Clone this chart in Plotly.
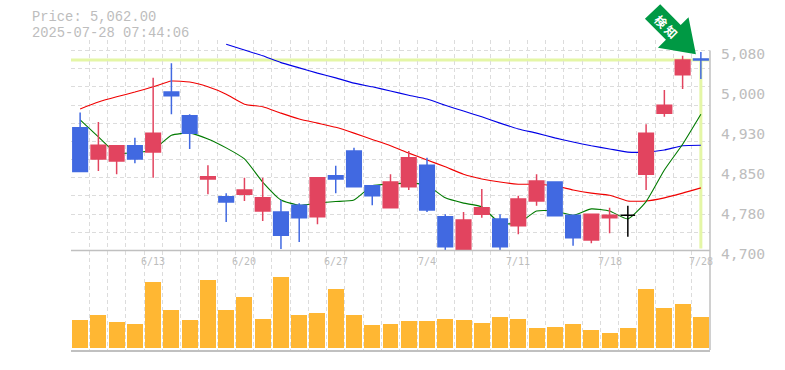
import plotly.graph_objects as go

dates = ["6/9","6/10","6/11","6/12","6/13","6/16","6/17","6/18","6/19","6/20","6/23","6/24","6/25","6/26","6/27",
         "6/30","7/1","7/2","7/3","7/4","7/7","7/8","7/9","7/10","7/11","7/14","7/15","7/16","7/17","7/18",
         "7/22","7/23","7/24","7/25","7/28"]
opens  = [4933,4874,4870,4899,4887,5001,4956,4836,4802,4807,4775,4773,4786,4764,4842,4889,4823,4781,4821,4862,4764,4700,4769,4760,4747,4794,4830,4767,4720,4762,4767,4845,4961,5034,5064]
highs  = [4962,4944,4899,4914,5028,5056,4959,4862,4809,4838,4838,4796,4790,4838,4861,4895,4824,4845,4889,4876,4769,4773,4817,4769,4804,4845,4830,4767,4769,4781,4785,4940,5005,5070,5077]
lows   = [4850,4851,4845,4866,4838,4959,4893,4807,4754,4794,4756,4703,4716,4750,4809,4821,4786,4781,4815,4773,4700,4700,4762,4700,4731,4785,4766,4709,4714,4733,4726,4815,4954,5007,5026]
closes = [4850,4900,4899,4874,4923,4994,4923,4840,4792,4815,4800,4729,4762,4838,4836,4821,4804,4830,4876,4777,4707,4758,4781,4707,4798,4832,4766,4724,4769,4767,4767,4923,4976,5062,5062]
ma_short = [4948,4916,4885,4886,4891,4919,4923,4912,4895,4874,4830,4796,4786,4790,4793,4796,4823,4826,4828,4824,4800,4790,4783,4752,4752,4775,4775,4767,4779,4775,4760,4793,4853,4902,4959]
ma_mid = [4969,4982,4992,5001,5011,5022,5020,5011,4997,4978,4973,4961,4950,4942,4934,4923,4911,4899,4885,4872,4859,4845,4836,4830,4826,4826,4823,4815,4809,4805,4794,4794,4800,4809,4819]
ma_long = [None]*8 + [5092,5081,5070,5057,5047,5037,5028,5018,5011,5003,4995,4988,4976,4965,4954,4942,4931,4923,4914,4906,4899,4893,4887,4887,4891,4899,4900]
volumes = [28,33,26,24,66,38,28,68,38,51,29,71,33,35,59,33,23,24,27,27,29,28,25,31,29,20,21,24,18,15,20,59,40,44,31]
last_price = 5062
price_ticks = [5080,5004,4928,4852,4776,4700]
price_labels = ["5,080","5,000","4,930","4,850","4,780","4,700"]
label_dates = ["6/13","6/20","6/27","7/4","7/11","7/18","7/28"]
info_lines = ["Price: 5,062.00","2025-07-28 07:44:06"]
badge_text = "検 知"

L, R, T, B = 70.5, 709.8, 40.0, 350.0
GRID_TOP = 50.5
MID = 250.5
W, H = R - L, B - T
def px(x): return (x - L) / W
def py(y): return (B - y) / H

x = list(range(len(dates)))
GRID = "#DCDCDC"
AXIS = "#C0C0C0"
TXT = "#BDBDBD"
MONO = "DejaVu Sans Mono"
RED = "#E2445F"
BLUE = "#4169E1"
HL = "#E4F6A6"
Y_TOP = 5080 + (GRID_TOP - T) * 380 / 200
grid_vals = [4700 + k * 380 / 11 for k in range(12)]

fig = go.Figure()
fig.add_trace(go.Bar(x=x, y=volumes, width=0.875, marker=dict(color="#FFB733", line=dict(width=0)), xaxis="x", yaxis="y2"))
for vals, col, w in [(ma_long, "#0000E6", 1.1), (ma_mid, "#F00000", 1.1), (ma_short, "#007A00", 1.1)]:
    fig.add_trace(go.Scatter(x=x, y=vals, mode="lines", line=dict(color=col, width=w, shape="spline", smoothing=0.5), xaxis="x", yaxis="y"))

black = 30
def mask(a): return [v if i != black else None for i, v in enumerate(a)]
fig.add_trace(go.Candlestick(x=x, open=mask(opens), high=mask(highs), low=mask(lows), close=mask(closes),
    increasing=dict(line=dict(color=RED, width=1.5), fillcolor=RED),
    decreasing=dict(line=dict(color=BLUE, width=1.5), fillcolor=BLUE),
    whiskerwidth=0, xaxis="x", yaxis="y3"))
fig.add_trace(go.Candlestick(x=x, open=[opens[i] if i == black else None for i in x],
    high=[highs[i] if i == black else None for i in x], low=[lows[i] if i == black else None for i in x],
    close=[closes[i] if i == black else None for i in x],
    increasing=dict(line=dict(color="#000000", width=1.5), fillcolor="#000000"),
    decreasing=dict(line=dict(color="#000000", width=1.5), fillcolor="#000000"),
    whiskerwidth=0, xaxis="x", yaxis="y3"))

ann = []
for v, t in zip(price_ticks, price_labels):
    ann.append(dict(x=px(719), y=v, xref="paper", yref="y", text=t, showarrow=False, xanchor="left", yanchor="middle",
                    yshift=-2.5, font=dict(family=MONO, size=14.7, color=TXT)))
for d in label_dates:
    ann.append(dict(x=dates.index(d), y=py(261), xref="x", yref="paper", text=d, showarrow=False, xanchor="center", yanchor="middle",
                    font=dict(family=MONO, size=10, color=TXT)))
for t, yy in zip(info_lines, [17.3, 33.2]):
    ann.append(dict(x=px(29.5), y=py(yy), xref="paper", yref="paper", text=t, showarrow=False, xanchor="left", yanchor="middle",
                    font=dict(family="Liberation Mono", size=13.8, color=TXT)))
ann.append(dict(x=px(666.5), y=py(26.5), xref="paper", yref="paper", text=badge_text, showarrow=False, textangle=45,
                xanchor="center", yanchor="middle",
                font=dict(family="Noto Sans CJK JP", size=12, color="#FFFFFF", weight="bold")))

arrow = [(660,4.3),(644.7,18.7),(665.7,39.7),(657.7,47.7),(695.7,54.3),(688.3,17.2),(680.5,24.9)]
arrow_path = "M " + " L ".join(f"{px(a):.5f},{py(b):.5f}" for a, b in arrow) + " Z"

shapes = [
    dict(type="rect", xref="paper", yref="paper", x0=-0.005, x1=1.005, y0=py(GRID_TOP - 0.5), y1=1.0, fillcolor="#FFFFFF", line=dict(width=0), layer="between"),
    dict(type="line", xref="paper", yref="y", x0=0, x1=1, y0=last_price, y1=last_price, line=dict(color=HL, width=3), layer="between"),
    dict(type="line", xref="x", yref="y", x0=34, x1=34, y0=last_price, y1=4704, line=dict(color=HL, width=3), layer="between"),
    dict(type="line", xref="paper", yref="paper", x0=0, x1=1, y0=py(MID), y1=py(MID), line=dict(color=AXIS, width=1.5)),
    dict(type="line", xref="paper", yref="paper", x0=1, x1=1, y0=0, y1=py(GRID_TOP), line=dict(color=AXIS, width=1.5)),
    dict(type="path", xref="paper", yref="paper", path=arrow_path, fillcolor="#009944", line=dict(width=0), layer="above"),
]

fig.update_layout(
    width=785, height=370, margin=dict(l=L, r=785-R, t=T, b=370-B),
    paper_bgcolor="#FFFFFF", plot_bgcolor="#FFFFFF", showlegend=False,
    boxgap=0.2, boxgroupgap=0, bargap=0, annotations=ann, shapes=shapes,
    xaxis=dict(range=[-0.5, 34.5], tickvals=[i - 0.5 for i in x], showticklabels=False, ticks="", showgrid=True, griddash="4px,3px",
               gridcolor=GRID, gridwidth=1.2, zeroline=False, anchor="y2", showline=True, linecolor=AXIS, linewidth=1.5, rangeslider=dict(visible=False)),
    yaxis=dict(domain=[py(MID), 1], range=[4700, Y_TOP], tickvals=grid_vals, showticklabels=False, ticks="", griddash="4px,3px",
               gridcolor=GRID, gridwidth=1.2, zeroline=False, side="right", showline=False, anchor="x"),
    yaxis2=dict(domain=[0, py(MID)], range=[-3, 96.5], showgrid=False, showticklabels=False, ticks="", zeroline=False, side="right",
                showline=False, anchor="x"),
    yaxis3=dict(overlaying="y", range=[4700, Y_TOP], visible=False, showgrid=False, zeroline=False, side="right", anchor="x"),
)
fig.write_html("out.html", config={"displayModeBar": False}, post_script="document.body.style.margin='0';document.body.style.overflow='hidden';")
